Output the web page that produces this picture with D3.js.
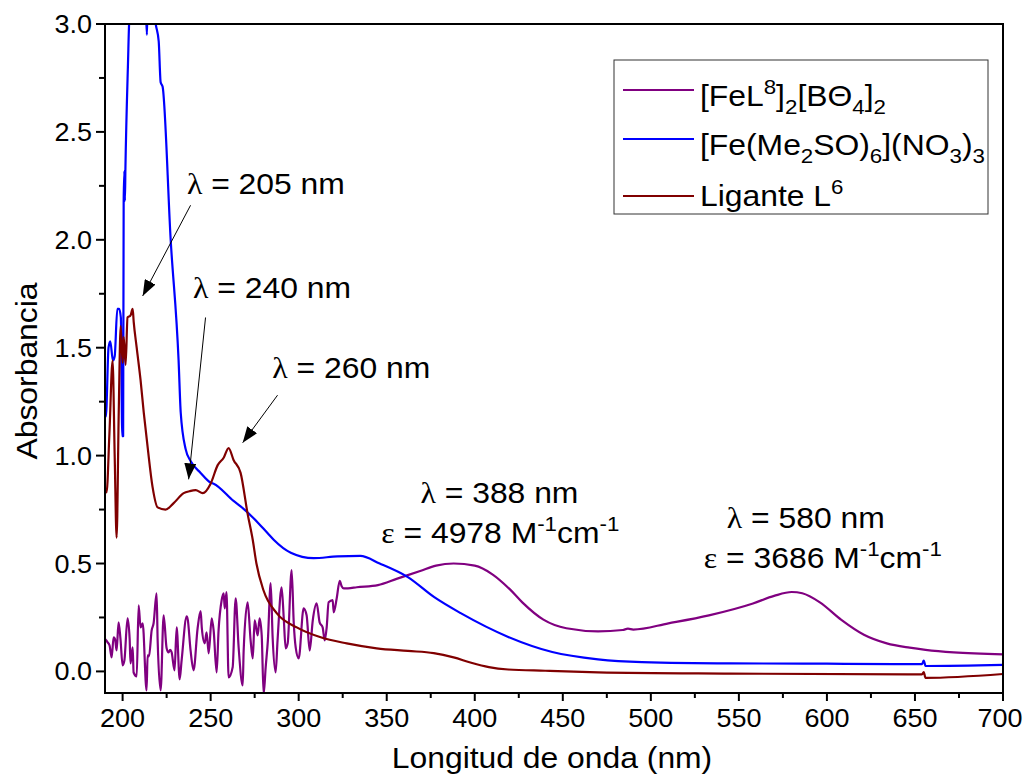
<!DOCTYPE html>
<html><head><meta charset="utf-8">
<script src="https://cdn.jsdelivr.net/npm/d3@7"></script>
<style>
body{margin:0;background:#fff}
svg{display:block}
text{font-family:"Liberation Sans",Arial,sans-serif;fill:#000}
.serif{font-family:"Liberation Serif","Times New Roman",serif}
</style>
</head><body>
<svg id="c" width="1024" height="776"></svg>
<script>
// ---------- data ----------
const xTickValues = [200,250,300,350,400,450,500,550,600,650,700];
const yTickValues = [0.0,0.5,1.0,1.5,2.0,2.5,3.0];
const xLabel = "Longitud de onda (nm)";
const yLabel = "Absorbancia";

// [FeL8]2[BΘ4]2  (purple)
const purpleLambda = [190,191.5,192.6,193.75,194.9,195.7,196.6,197.7,198.8,200,201,202.8,204,204.5,205.7,206.25,208,209.1,210.2,211.4,213.6,214.2,215,216.5,217.6,219.3,219.9,221.6,223.3,225,226.1,227,227.8,229.5,230.7,232.4,233.5,236.4,237,238.6,240.3,242.6,244.3,245,246.6,247.7,248.9,250.6,251.7,253.4,254.5,256.25,257.4,258,259,260.2,262.5,264.2,265.9,268.2,268.75,271,272.7,273.9,275,276.7,277.8,279,280.1,281.25,282.5,284.1,285.2,286.9,288,290.3,291.5,292.6,293.75,296,297.2,298.3,300,302.8,304.5,306.25,308,310.2,311.9,313.6,314.8,315.9,317,319.3,319.9,321.6,323.3,324.4,325.6,328,333,345,356,369,378,388,400,410,420,427,439,452,470,484,487,490,510,533,558,570,580,586,596,608,621,634,647,656,672,700];
const purpleAbs = [0.15,0.135,0.12,0.065,0.158,0.15,0.097,0.227,0.15,0.028,0.05,0.246,0.15,0.037,0.111,-0.005,-0.023,0.306,0.204,0.223,-0.088,0.074,0.07,0.19,0.223,0.362,0.144,-0.088,0.26,0.107,0.088,0.1,0.09,0.005,0.204,-0.037,0.05,0.255,0.24,0.097,0.005,0.2,0.279,0.2,0.13,0.181,0.084,0.246,0.19,-0.005,0.19,0.33,0.362,0.292,0.367,-0.028,0.019,0.339,0.111,-0.065,0.097,0.32,0.144,0.06,0.237,0.167,0.246,0.167,-0.105,0.019,0.144,0.409,0.158,-0.005,0.144,0.39,0.25,0.107,0.13,0.469,0.223,0.111,0.06,0.292,0.26,0.097,0.237,0.315,0.227,0.204,0.144,0.204,0.32,0.33,0.274,0.339,0.42,0.395,0.385,0.385,0.39,0.40,0.43,0.465,0.49,0.50,0.49,0.45,0.38,0.32,0.24,0.20,0.186,0.192,0.198,0.194,0.223,0.26,0.315,0.35,0.368,0.362,0.32,0.24,0.17,0.13,0.11,0.10,0.088,0.079];

// [Fe(Me2SO)6](NO3)3  (blue)
const blueLambda = [190,190.5,192,193,194.5,195.5,197,198,199,199.8,200.3,200.6,201,201.3,201.6,203,204,208,213,213.8,214.2,215,218,218.8,220.5,221.6,222.7,227.3,231.8,233,235.8,238.6,244.3,250,251.7,263,267,274.4,282.4,285.8,295.5,308.5,322,335,346,362,377,392,419,444,470,495,545,596,646,654,655,656,700];
const blueAbs = [1.20,1.18,1.50,1.53,1.44,1.46,1.68,1.68,1.64,1.09,1.09,2.18,2.32,2.18,2.33,2.8,3.05,3.1,3.1,2.95,3.1,3.1,3.05,3.0,2.92,2.73,2.71,2.0,1.44,1.2,1.03,0.975,0.92,0.875,0.87,0.79,0.765,0.71,0.64,0.61,0.55,0.525,0.533,0.535,0.50,0.437,0.344,0.27,0.16,0.09,0.056,0.043,0.037,0.036,0.034,0.034,0.05,0.025,0.03];

// Ligante L6  (dark red)
const redLambda = [190,190.9,192.5,194.3,195.5,196.6,197.8,198.9,200,200.6,201.7,202.8,204.5,205.7,206.3,208,210.2,212,214.2,217,219.9,224.4,229,234.7,238,241.5,245.5,250,254,257.4,260.2,263,267,271,273.9,276,280,287.5,298.9,312.5,327.3,344.3,362,376.7,388,398,408,419,440,470,545,646,654,655,656,700];
const redAbs = [0.84,0.83,1.1,1.44,1.0,0.62,1.2,1.6,1.43,1.55,1.42,1.64,1.65,1.68,1.62,1.5,1.35,1.2,1.04,0.855,0.76,0.75,0.78,0.826,0.835,0.84,0.826,0.87,0.956,0.99,1.035,0.98,0.92,0.73,0.61,0.5,0.376,0.27,0.204,0.158,0.13,0.107,0.095,0.085,0.065,0.04,0.02,0.009,0.003,-0.004,-0.01,-0.014,-0.014,-0.003,-0.03,-0.012];

const seriesColors = ["#800080","#0000ff","#800000"];

// ---------- layout ----------
const svg = d3.select("#c");
const L = 105, R = 1003, T = 24, B = 693;
const x = d3.scaleLinear().domain([190,700]).range([L,R]);
const y = d3.scaleLinear().domain([-0.1,3.0]).range([B,T]);
const SX = 1.08;  // horizontal stretch of text

function stext(g, px, py, anchor, size){
  const gg = g.append("g").attr("transform",`translate(${px},${py}) scale(${SX},1)`);
  return gg.append("text").attr("text-anchor",anchor).attr("font-size",size);
}

const defs = svg.append("defs");
defs.append("clipPath").attr("id","clip")
  .append("rect").attr("x",L).attr("y",T).attr("width",R-L).attr("height",B-T);

const line = d3.line().curve(d3.curveMonotoneX).x(d=>x(d[0])).y(d=>y(d[1]));
const data = [
  d3.zip(purpleLambda,purpleAbs),
  d3.zip(blueLambda,blueAbs),
  d3.zip(redLambda,redAbs)
];
const plot = svg.append("g").attr("clip-path","url(#clip)");
data.forEach((d,i)=>{
  plot.append("path").attr("d",line(d)).attr("fill","none")
    .attr("stroke",seriesColors[i]).attr("stroke-width",2.2).attr("stroke-linejoin","round");
});

// frame
svg.append("rect").attr("x",L).attr("y",T).attr("width",R-L).attr("height",B-T)
  .attr("fill","none").attr("stroke","#000").attr("stroke-width",2);

// ticks
const xMinor = d3.range(225,700,50);
const yMinor = d3.range(0.25,3.0,0.5);
const ax = svg.append("g").attr("stroke","#000").attr("stroke-width",2);
xTickValues.forEach(v=>ax.append("line").attr("x1",x(v)).attr("x2",x(v)).attr("y1",B).attr("y2",B+8));
xMinor.forEach(v=>ax.append("line").attr("x1",x(v)).attr("x2",x(v)).attr("y1",B).attr("y2",B+5));
yTickValues.forEach(v=>ax.append("line").attr("y1",y(v)).attr("y2",y(v)).attr("x1",L).attr("x2",L-9));
yMinor.forEach(v=>ax.append("line").attr("y1",y(v)).attr("y2",y(v)).attr("x1",L).attr("x2",L-6));

const tickFs = 25;
xTickValues.forEach(v=>stext(svg, Math.min(x(v), 1000), 727, "middle", tickFs).text(v));
yTickValues.forEach(v=>stext(svg, 92, y(v)+9, "end", tickFs).text(d3.format(".1f")(v)));

stext(svg, 552, 768, "middle", 29.5).text(xLabel);
svg.append("g").attr("transform",`translate(37,371) rotate(-90) scale(${SX},1)`)
  .append("text").attr("text-anchor","middle").attr("font-size",29.5).text(yLabel);

// legend
const leg = svg.append("g");
leg.append("rect").attr("x",614).attr("y",60).attr("width",374).attr("height",154)
  .attr("fill","#fff").attr("stroke","#333").attr("stroke-width",1);
const legY = [90,139,196];
legY.forEach((ly,i)=>{
  leg.append("line").attr("x1",623).attr("x2",694).attr("y1",ly).attr("y2",ly)
    .attr("stroke",seriesColors[i]).attr("stroke-width",2.2);
});
function parts(t, arr){
  arr.forEach(p=>{
    const ts = t.append("tspan").text(p[0]);
    if(p[1]==="sub" || p[1]==="sup") ts.attr("font-size","0.7em");
    if(p[2]!==undefined) ts.attr("dy",p[2]);
  });
}
const legFs = 29.5;
const up = -12, dn = 8;
let t1 = stext(leg, 700, 106, "start", legFs);
parts(t1, [["[FeL"],["8","sup",up],["]","n",-up],["2","sub",dn],["[BΘ","n",-dn],["4","sub",dn],["]","n",-dn],["2","sub",dn]]);
let t2 = stext(leg, 700, 155, "start", legFs);
parts(t2, [["[Fe(Me"],["2","sub",dn],["SO)","n",-dn],["6","sub",dn],["](NO","n",-dn],["3","sub",dn],[")","n",-dn],["3","sub",dn]]);
let t3 = stext(leg, 700, 206, "start", legFs);
parts(t3, [["Ligante L"],["6","sup",up]]);

// annotations (positions in data units)
const annLabels = ["205","240","260"];
const annTextPos = [[236.5,2.21],[240,1.73],[285,1.36]];
const annArrowFrom = [[238.6,2.16],[247.1,1.64],[288,1.28]];
const annArrowTo = [[211.4,1.74],[237.5,0.89],[268.2,1.06]];

defs.append("marker").attr("id","ah").attr("viewBox","0 0 16 12").attr("refX",16).attr("refY",6)
  .attr("markerWidth",16).attr("markerHeight",12).attr("markerUnits","userSpaceOnUse").attr("orient","auto")
  .append("path").attr("d","M0,0 L16,6 L0,12 Z").attr("fill","#000");

const annFs = 29.5;
annLabels.forEach((lab,i)=>{
  const t = stext(svg, x(annTextPos[i][0]), y(annTextPos[i][1]), "start", annFs);
  t.append("tspan").attr("class","serif").text("λ");
  t.append("tspan").text(" = "+lab+" nm");
  svg.append("line").attr("x1",x(annArrowFrom[i][0])).attr("y1",y(annArrowFrom[i][1]))
    .attr("x2",x(annArrowTo[i][0])).attr("y2",y(annArrowTo[i][1]))
    .attr("stroke","#000").attr("stroke-width",1).attr("marker-end","url(#ah)");
});

// peak labels
const peakLambda = ["388","580"];
const peakEps = ["4978","3686"];
const peakPos = [[[414,0.78],[414.5,0.595]],[[588,0.665],[597.7,0.48]]];
peakLambda.forEach((pl,i)=>{
  const a = stext(svg, x(peakPos[i][0][0]), y(peakPos[i][0][1]), "middle", annFs);
  a.append("tspan").attr("class","serif").text("λ");
  a.append("tspan").text(" = "+pl+" nm");
  const b = stext(svg, x(peakPos[i][1][0]), y(peakPos[i][1][1]), "middle", annFs);
  b.append("tspan").attr("class","serif").text("ε");
  b.append("tspan").text(" = "+peakEps[i]+" M");
  b.append("tspan").attr("font-size","0.7em").attr("dy",up).text("-1");
  b.append("tspan").attr("dy",-up).text("cm");
  b.append("tspan").attr("font-size","0.7em").attr("dy",up).text("-1");
});
</script>
</body></html>
